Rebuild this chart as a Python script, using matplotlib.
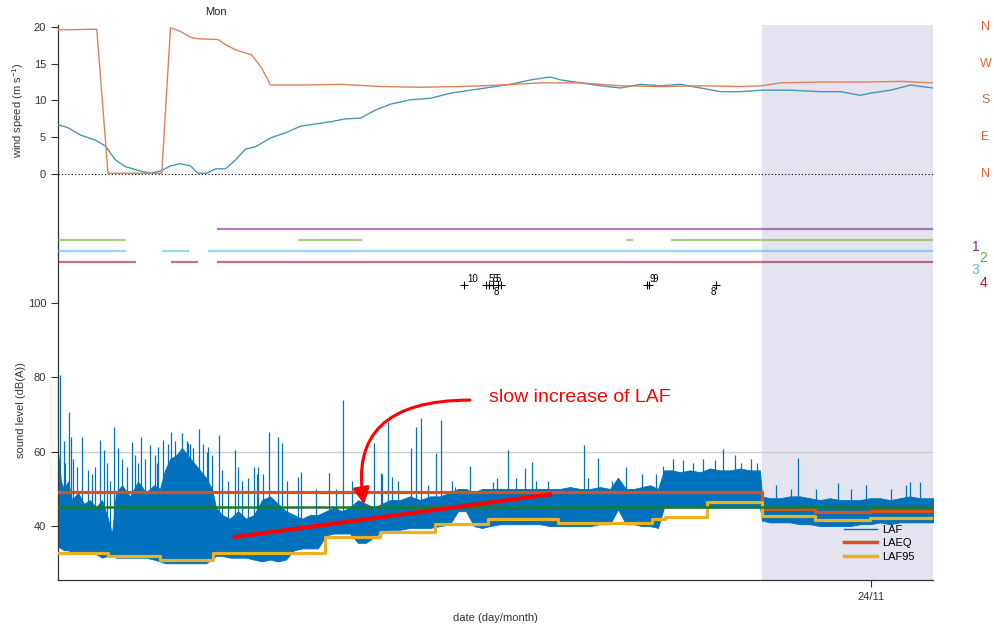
import matplotlib
matplotlib.use("Agg")

import numpy as np
import matplotlib.pyplot as plt
from matplotlib.lines import Line2D
from matplotlib.transforms import blended_transform_factory

plt.rcParams["font.family"] = ["Liberation Sans", "DejaVu Sans"]
plt.rcParams["mathtext.default"] = "regular"

# time axis: hours from the start of the record
t_end = 70.0
t_shade = 56.3          # start of the shaded period
day_ticks = [65.0]
day_labels = ["24/11"]
t_mon = 12.6

# wind speed (m/s)
t_ws = [0, 0.8, 1.8, 3.0, 3.8, 4.6, 5.4, 6.6, 7.4, 8.2, 9.0, 9.8, 10.6, 11.2, 11.9,
        12.6, 13.4, 14.2, 15.0, 15.8, 17.0, 18.2, 19.4, 20.2, 21.8, 23.0, 24.2, 25.4,
        26.6, 28.2, 29.8, 31.4, 33.0, 34.6, 36.2, 37.8, 39.4, 40.2, 41.8, 43.4, 45.0,
        46.6, 48.2, 49.8, 51.4, 53.0, 54.6, 56.3, 58.6, 61.0, 62.6, 64.2, 65.0, 66.6,
        68.2, 70.0]
ws = [6.7, 6.3, 5.3, 4.6, 3.8, 1.9, 1.0, 0.4, 0.1, 0.4, 1.1, 1.4, 1.1, 0.1, 0.1,
      0.7, 0.7, 1.9, 3.4, 3.7, 4.9, 5.6, 6.5, 6.7, 7.1, 7.5, 7.6, 8.7,
      9.5, 10.1, 10.3, 11.0, 11.4, 11.8, 12.2, 12.8, 13.2, 12.8, 12.4, 12.0, 11.7,
      12.2, 12.0, 12.2, 11.7, 11.2, 11.2, 11.4, 11.4, 11.2, 11.2, 10.7, 11.0, 11.4,
      12.1, 11.7]

# wind direction scaled to 0..20 (N=0, E=5, S=10, W=15, N=20)
t_wd = [0, 3.1, 4.0, 8.3, 9.0, 9.8, 10.6, 11.2, 12.8, 13.4, 14.2, 15.5, 16.3, 17.0,
        19.4, 22.6, 25.8, 29.0, 32.2, 35.4, 38.6, 41.8, 45.0, 48.2, 51.4, 54.6, 56.3,
        57.8, 61.0, 64.2, 67.4, 70.0]
wd = [19.6, 19.7, 0.1, 0.1, 19.9, 19.4, 18.6, 18.4, 18.3, 17.6, 16.9, 16.2, 14.4, 12.1,
      12.1, 12.2, 11.9, 11.8, 11.9, 12.1, 12.4, 12.4, 12.0, 11.9, 12.0, 11.9, 12.0,
      12.4, 12.5, 12.5, 12.6, 12.4]
dir_labels = ["N", "E", "S", "W", "N"]
dir_values = [0, 5, 10, 15, 20]

# on/off periods of the four status channels
status1 = [(12.7, 70.0)]
status2 = [(0, 5.4), (19.2, 24.3), (45.4, 46.0), (49.0, 70.0)]
status3 = [(0, 5.4), (8.3, 10.5), (12.0, 70.0)]
status4 = [(0, 6.2), (9.0, 11.2), (12.7, 70.0)]

# event markers
ev_t = [32.5, 34.2, 34.5, 34.8, 35.2, 35.4, 47.1, 47.3, 52.6]
ev_lab = ["10", "5", "5", "5", "8", "", "9", "9", "8"]
ev_below = [False, False, False, False, True, False, False, False, True]
ev_level = 104.8

# LAF: dense band (lower / upper edge) and single peaks, dB(A)
t_body = [0, 0.24, 0.48, 0.8, 1.12, 1.6, 2.08, 2.56, 3.04, 3.52,
          4.0, 4.32, 4.64, 5.12, 5.76, 6.4, 7.04, 7.68, 8.16, 8.56,
          8.96, 9.44, 9.92, 10.4, 10.88, 11.36, 11.84, 12.32, 12.64, 13.12,
          13.76, 14.4, 15.04, 15.68, 16.32, 16.96, 17.6, 18.24, 18.88, 19.52,
          20.16, 20.8, 21.44, 22.08, 22.72, 23.36, 24.0, 24.64, 25.28, 25.92,
          26.56, 27.36, 28.16, 28.96, 29.76, 30.56, 31.36, 32.0, 32.64, 33.28,
          33.92, 34.56, 35.36, 36.16, 36.96, 37.76, 38.56, 39.36, 40.16, 40.96,
          41.76, 42.56, 43.36, 44.16, 44.8, 45.44, 46.08, 46.72, 47.36, 48.0,
          48.48, 49.12, 49.76, 50.56, 51.36, 52.16, 52.96, 53.76, 54.56, 55.36,
          56.16, 56.32, 56.96, 57.76, 58.56, 59.36, 60.16, 60.96, 61.76, 62.56,
          63.36, 64.16, 64.96, 65.76, 66.56, 67.36, 68.16, 68.96, 70.0]
laf_low = [34.5, 34, 33.5, 33.5, 33, 33, 33, 33, 32.5, 31.5,
           32, 32, 31.5, 31.5, 31.5, 31.5, 31.5, 31, 30.5, 30,
           30, 30, 30, 30, 30, 30, 30, 31, 32, 32,
           31.5, 31.5, 31.5, 31, 30.5, 31, 30.5, 31, 33.5, 34,
           34, 34, 37.5, 38, 38, 38, 35.5, 35.5, 37, 38.5,
           39, 39, 39.5, 39.5, 39.5, 40, 40.5, 44, 44, 40,
           39.5, 40, 40.5, 40.5, 40.5, 40.5, 40.5, 40, 40, 40,
           40, 40, 40.5, 40.5, 44.5, 40.5, 40.5, 40, 40, 39.5,
           45, 45, 45, 45, 45, 45, 45, 45, 45, 45,
           45, 41.5, 41, 41, 41, 40.5, 40.5, 40, 40, 40,
           40, 40.5, 40.5, 41, 40.5, 41, 41, 41, 41]
laf_high = [60, 52, 50, 52, 47, 49, 46, 47, 45, 47,
            42, 38, 49, 51, 48, 52, 49, 51, 50, 55,
            58, 59, 61, 59, 57, 55, 53, 50, 45, 43,
            42, 44, 42, 43, 47, 48, 46, 44, 43, 42,
            43, 43, 44, 45, 44, 45, 47, 46, 45, 46,
            47, 47, 48, 47, 48, 48, 49, 50, 50, 49,
            50, 50, 50, 50, 50, 50, 50, 50, 50, 50.5,
            50, 50, 50.5, 50, 53, 50, 50, 50.5, 51, 50,
            55, 55, 54.5, 55, 54.5, 55.5, 55, 55, 55.5, 55,
            55, 48, 47.5, 47.5, 48, 48, 47.5, 47, 47.5, 47,
            47, 47, 47.5, 47.5, 47, 47.5, 48, 47.5, 47.5]

peak_t = [0.16, 0.5, 0.88, 1.04, 1.92, 3.36, 3.68, 4.48, 4.8, 5.92,
          6.64, 7.36, 8.0, 8.4, 9.04, 9.92, 10.4, 11.28, 12.0, 12.88,
          14.16, 14.4, 15.68, 16.88, 17.6, 17.92, 19.2, 19.44, 21.68, 22.8,
          24.32, 25.28, 25.84, 26.4, 26.72, 28.24, 28.64, 29.04, 30.24, 30.64,
          31.76, 32.96, 34.8, 36.0, 37.36, 37.92, 42.08, 43.2, 45.44, 48.4,
          50.0, 52.56, 53.2, 54.16, 59.2, 62.4, 68.16, 68.96,
          0.56, 1.23, 1.49, 2.43, 2.69, 2.96, 3.89, 4.16, 5.09, 5.49,
          6.16, 6.43, 6.96, 7.76, 7.89, 8.83, 9.36, 10.29, 10.56, 10.83,
          11.63, 11.89, 12.29, 13.09, 13.63, 14.69, 15.23, 15.89, 16.0, 16.4,
          18.3, 20.6, 22.2, 23.5, 25.9, 27.2, 29.6, 31.5, 35.1, 36.6,
          38.2, 39.2, 42.4, 44.3, 46.7, 47.8, 49.2, 50.8, 51.6, 54.6,
          55.4, 55.9, 57.4, 58.6, 60.6, 63.4, 64.6, 66.6, 67.8]
peak_db = [80.6, 63, 70.7, 64, 64, 63.1, 60.4, 66.6, 61, 62.6,
           64, 61.8, 61.3, 63.1, 65.3, 65, 62.3, 66.1, 61.3, 64.5,
           60.4, 55.9, 55.9, 65.3, 64, 62.3, 53.2, 54.5, 54.3, 73.9,
           58.3, 62.3, 54.3, 68, 53.2, 61, 66.6, 69, 59.6, 68.5,
           50.5, 56.1, 51.8, 60.4, 55.6, 57.2, 61.8, 58.3, 55.9, 56.1,
           57.8, 57.8, 60.7, 59.1, 58.3, 51.6, 51.8, 51.8,
           57, 58, 56, 55, 54, 56, 57, 52, 58, 56,
           59, 57, 58, 59, 57, 62, 63, 63, 62, 61,
           62, 60, 59, 55, 52, 52, 53, 54, 56, 54,
           52, 50, 50, 52, 54, 52, 51, 52, 53, 53,
           52, 52, 53, 52, 54, 54, 58, 57, 58, 57,
           58, 57, 51, 50, 50, 50, 51, 50, 51]

# LAEQ and LAF95 (step values, start times)
t_laeq = [0, 56.32, 60.56, 64.96, 70.0]
laeq = [49.1, 44.6, 43.8, 44.0, 44.0]
t_l95 = [0, 4.0, 8.16, 12.4, 21.36, 25.76, 30.16, 34.4, 40.0, 47.52, 48.56,
         51.92, 56.32, 60.56, 64.96, 70.0]
l95 = [32.7, 31.9, 30.9, 32.7, 37.0, 38.4, 40.5, 41.9, 40.8, 41.9, 42.4,
       46.5, 42.6, 41.6, 42.2, 42.2]
ref_level = 45.1

# hand-drawn trend annotation
trend_t = [14.0, 39.5]
trend_db = [37.0, 48.6]

c_laf = "#0072bd"
c_laeq = "#d95319"
c_l95 = "#edb120"
c_ws = "#4a96b6"
c_wd = "#e0805a"
c_dir = "#e8622c"
c_status = ["#7e2f8e", "#77ac30", "#4dbeee", "#a2142f"]
grey = "#333333"

fig = plt.figure(figsize=(9.94, 6.27), dpi=100)
rect = [58 / 994, 47 / 627, 875 / 994, 555 / 627]
ax = fig.add_axes(rect)
axw = fig.add_axes(rect, sharex=ax)
axw.patch.set_visible(False)

# --- sound level part ---
ax.axvspan(t_shade, t_end, color="#e4e4f0", lw=0, zorder=0)
ax.axhline(60, color="#cccccc", lw=1, zorder=1)
ax.fill_between(t_body, laf_low, laf_high, color=c_laf, lw=0.6, zorder=2)
peak_base = np.interp(peak_t, t_body, laf_high) - 1
ax.vlines(peak_t, peak_base, peak_db, color=c_laf, lw=0.9, zorder=2)
ax.step(t_laeq, laeq, where="post", color=c_laeq, lw=2.3, zorder=3)
ax.step(t_l95, l95, where="post", color=c_l95, lw=2.3, zorder=3)
ax.axhline(ref_level, color="#1b7a30", lw=1.8, zorder=3)

ax.plot(trend_t, trend_db, color="red", lw=3, solid_capstyle="butt", zorder=5)
ax.annotate("", xy=(24.5, 45.8), xytext=(32.96, 73.9),
            arrowprops=dict(arrowstyle="-|>,head_length=0.7,head_width=0.35",
                            color="red", lw=2.2, mutation_scale=14,
                            shrinkA=0, shrinkB=0,
                            connectionstyle="angle3,angleA=180,angleB=100"),
            zorder=5)
ax.text(34.5, 74.6, "slow increase of LAF", color="red", fontsize=14,
        va="center", ha="left", zorder=5)

# event markers
ax.plot(ev_t, [ev_level] * len(ev_t), "k+", ms=6, mew=0.8)
for t, lab, below in zip(ev_t, ev_lab, ev_below):
    if below:
        ax.text(t - 0.15, ev_level - 0.6, lab, fontsize=7, ha="center", va="top")
    else:
        ax.text(t + 0.24, ev_level + 0.3, lab, fontsize=7, ha="left", va="bottom")

handles = [Line2D([], [], color=c_laf, lw=1),
           Line2D([], [], color=c_laeq, lw=2.5),
           Line2D([], [], color=c_l95, lw=2.5)]
ax.legend(handles, ["LAF", "LAEQ", "LAF95"], loc="lower right",
          bbox_to_anchor=(0.99, 0.015), frameon=False, fontsize=8,
          handlelength=3.0, handletextpad=0.4, labelspacing=0.3)

ax.set_xlim(0, t_end)
ax.set_ylim(25.5, 174.8)
ax.set_yticks([40, 60, 80, 100])
ax.set_xticks(day_ticks)
ax.set_xticklabels(day_labels)
for s in ["top", "right"]:
    ax.spines[s].set_visible(False)
for s in ["left", "bottom"]:
    ax.spines[s].set_color(grey)
    ax.spines[s].set_linewidth(0.9)
ax.tick_params(direction="out", length=5, width=0.8, labelsize=8,
               color=grey, labelcolor=grey)
ax.set_xlabel("date (day/month)", fontsize=8, color=grey, labelpad=8)
ax.set_ylabel("sound level (dB(A))", fontsize=8, color=grey)
ax.yaxis.set_label_coords(-0.037, 0.306)

# --- wind part ---
axw.axhline(0, color="k", lw=0.8, ls=(0, (1, 2)))
axw.plot(t_ws, ws, color=c_ws, lw=1)
axw.plot(t_wd, wd, color=c_wd, lw=1)

rows = [-7.5, -9.0, -10.5, -12.0]
for segs, y, c in zip([status1, status2, status3, status4], rows, c_status):
    for a, b in segs:
        axw.plot([a, b], [y, y], color=c, lw=1.6, alpha=0.6,
                 solid_capstyle="butt")

for lab, v in zip(dir_labels, dir_values):
    axw.text(74.2, v, lab, color=c_dir, fontsize=9, ha="center",
             va="center", clip_on=False)
num_x = [73.4, 74.0, 73.4, 74.0]
num_y = [-9.9, -11.4, -13.1, -14.8]
for i, (x, y, c) in enumerate(zip(num_x, num_y, c_status)):
    axw.text(x, y, str(i + 1), color=c, fontsize=10, ha="center",
             va="center", clip_on=False)

axw.set_ylim(-55.24, 20.27)
axw.set_yticks([0, 5, 10, 15, 20])
for s in axw.spines.values():
    s.set_visible(False)
axw.tick_params(axis="x", bottom=False, labelbottom=False)
axw.tick_params(axis="y", direction="out", length=5, width=0.8, labelsize=8,
                color=grey, labelcolor=grey)
axw.set_ylabel("wind speed (m s$^{-1}$)", fontsize=8, color=grey)
axw.yaxis.set_label_coords(-0.037, 0.847)

trans = blended_transform_factory(ax.transData, ax.transAxes)
ax.text(t_mon, 1.023, "Mon", transform=trans, fontsize=8, ha="center",
        va="center", color="#222222")

fig.savefig("out.png", dpi=100)
